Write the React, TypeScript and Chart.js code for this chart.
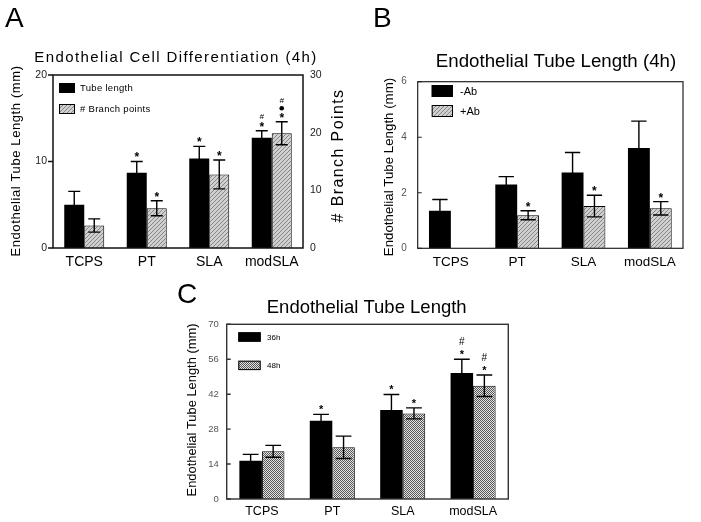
import React, { useEffect, useRef } from "react";
import { Chart, registerables } from "chart.js";

Chart.register(...registerables);

const FONT = '"Liberation Sans", Arial, Helvetica, sans-serif';

// ---------- data ----------
const categories = ["TCPS", "PT", "SLA", "modSLA"];

// Panel A: Endothelial Cell Differentiation (4h)
const aTubeLength = [5.0, 8.7, 10.35, 12.75];
const aTubeLengthErr = [1.55, 1.3, 1.4, 0.8];
const aTubeMarks = ["", "*", "*", "*#"];
const aBranchPoints = [3.9, 6.9, 12.75, 19.9];
const aBranchPointsErr = [1.15, 1.3, 2.5, 2.0];
const aBranchMarks = ["", "*", "*", "*●#"];
const aLeftTicks = { max: 20, step: 10 };
const aRightTicks = { max: 30, step: 10 };

// Panel B: Endothelial Tube Length (4h)
const bMinusAb = [1.35, 2.3, 2.73, 3.61];
const bMinusAbErr = [0.41, 0.28, 0.72, 0.97];
const bMinusMarks = ["", "", "", ""];
const bPlusAb: (number | null)[] = [null, 1.19, 1.52, 1.44];
const bPlusAbErr: (number | null)[] = [null, 0.16, 0.39, 0.24];
const bPlusMarks = ["", "*", "*", "*"];
const bTicks = { max: 6, step: 2 };

// Panel C: Endothelial Tube Length
const c36h = [15.3, 31.4, 35.7, 50.5];
const c36hErr = [2.6, 2.5, 6.2, 5.5];
const c36Marks = ["", "*", "*", "*#"];
const c48h = [19.1, 20.7, 34.3, 45.4];
const c48hErr = [2.4, 4.5, 2.2, 4.3];
const c48Marks = ["", "", "*", "*#"];
const cTicks = { max: 70, step: 14 };

// ---------- types ----------
type Fill = "black" | "hatch" | "checker";
type Series = {
  label: string;
  data: (number | null)[];
  err: (number | null)[];
  marks: string[];
  fill: Fill;
  axis: "y" | "y2";
};
type TextSpec = { text: string; x: number; y: number; size: number; ls?: number; color?: string };
type PanelCfg = {
  left: number; top: number; width: number; height: number;
  area: { l: number; r: number; t: number; b: number };
  catPct: number;
  y: { max: number; step: number; pad: number };
  y2?: { max: number; step: number; pad: number };
  series: Series[];
  tickFont: number; tickColor: string;
  xFont: number; xPad: number;
  frameColor: string; frameWidth: number;
  tickDir: number; tickLen: number;
  letter: TextSpec; title: TextSpec; yTitle: TextSpec; y2Title?: TextSpec;
  legend: { x: number; y: number; w: number; h: number; gap: number; tx: number; size: number; ls?: number };
  capFrac: number; errWidth: number;
  starSize: number; hashSize: number; hashStyle: string;
  firstGap: number; hashGap: number; dotGap: number;
};

// ---------- panel configs ----------
const panelA: PanelCfg = {
  left: 0, top: 0, width: 350, height: 282,
  area: { l: 53, r: 303, t: 75, b: 248 },
  catPct: 0.64,
  y: { ...aLeftTicks, pad: 6 },
  y2: { ...aRightTicks, pad: 7 },
  series: [
    { label: "Tube length", data: aTubeLength, err: aTubeLengthErr, marks: aTubeMarks, fill: "black", axis: "y" },
    { label: "# Branch points", data: aBranchPoints, err: aBranchPointsErr, marks: aBranchMarks, fill: "hatch", axis: "y2" },
  ],
  tickFont: 10.5, tickColor: "#222",
  xFont: 14, xPad: 5.3,
  frameColor: "#111", frameWidth: 1.5,
  tickDir: -1, tickLen: 5,
  letter: { text: "A", x: 5, y: 26.7, size: 28 },
  title: { text: "Endothelial Cell Differentiation (4h)", x: 176, y: 62.3, size: 15, ls: 1.4 },
  yTitle: { text: "Endothelial Tube Length (mm)", x: 20, y: 161, size: 13, ls: 0.6 },
  y2Title: { text: "# Branch Points", x: 343.3, y: 155.5, size: 16, ls: 1.4 },
  legend: { x: 59, y: 83, w: 16, h: 10, gap: 21, tx: 80, size: 9.5, ls: 0.3 },
  capFrac: 0.6, errWidth: 1.4,
  starSize: 12, hashSize: 8, hashStyle: "italic",
  firstGap: 7, hashGap: 8, dotGap: 6.5,
};

const panelB: PanelCfg = {
  left: 350, top: 0, width: 351, height: 282,
  area: { l: 67.7, r: 333, t: 81.7, b: 248.3 },
  catPct: 0.66,
  y: { ...bTicks, pad: 11 },
  series: [
    { label: "-Ab", data: bMinusAb, err: bMinusAbErr, marks: bMinusMarks, fill: "black", axis: "y" },
    { label: "+Ab", data: bPlusAb, err: bPlusAbErr, marks: bPlusMarks, fill: "hatch", axis: "y" },
  ],
  tickFont: 10, tickColor: "#555",
  xFont: 13.5, xPad: 5.8,
  frameColor: "#222", frameWidth: 1.2,
  tickDir: 1, tickLen: 4,
  letter: { text: "B", x: 23, y: 26.7, size: 28 },
  title: { text: "Endothelial Tube Length (4h)", x: 206, y: 66.7, size: 18.7 },
  yTitle: { text: "Endothelial Tube Length (mm)", x: 42.5, y: 167, size: 13.3 },
  legend: { x: 81.7, y: 85, w: 21.3, h: 12, gap: 20, tx: 110, size: 11 },
  capFrac: 0.7, errWidth: 1.4,
  starSize: 12, hashSize: 9, hashStyle: "normal",
  firstGap: 7, hashGap: 9, dotGap: 6.5,
};

const panelC: PanelCfg = {
  left: 160, top: 282, width: 400, height: 240,
  area: { l: 66.7, r: 348.3, t: 42.3, b: 217 },
  catPct: 0.64,
  y: { ...cTicks, pad: 8 },
  series: [
    { label: "36h", data: c36h, err: c36hErr, marks: c36Marks, fill: "black", axis: "y" },
    { label: "48h", data: c48h, err: c48hErr, marks: c48Marks, fill: "checker", axis: "y" },
  ],
  tickFont: 9.5, tickColor: "#555",
  xFont: 12.5, xPad: 5.5,
  frameColor: "#333", frameWidth: 1.4,
  tickDir: 1, tickLen: 4,
  letter: { text: "C", x: 17, y: 20.5, size: 28 },
  title: { text: "Endothelial Tube Length", x: 206.7, y: 30.7, size: 18.5 },
  yTitle: { text: "Endothelial Tube Length (mm)", x: 36, y: 128, size: 12.9 },
  legend: { x: 78.3, y: 50.3, w: 22.4, h: 9.4, gap: 28.4, tx: 107, size: 8 },
  capFrac: 0.7, errWidth: 1.4,
  starSize: 11, hashSize: 10, hashStyle: "normal",
  firstGap: 7.5, hashGap: 10, dotGap: 6.5,
};

// ---------- fills ----------
function makeHatch(): CanvasPattern | string {
  const c = document.createElement("canvas");
  c.width = 4; c.height = 4;
  const g = c.getContext("2d");
  if (!g) return "#b0b0b0";
  g.fillStyle = "#d0d0d0";
  g.fillRect(0, 0, 4, 4);
  g.fillStyle = "#858585";
  for (let i = 0; i < 4; i++) g.fillRect(3 - i, i, 1, 1);
  return g.createPattern(c, "repeat") || "#b0b0b0";
}
function makeChecker(): CanvasPattern | string {
  const c = document.createElement("canvas");
  c.width = 2; c.height = 2;
  const g = c.getContext("2d");
  if (!g) return "#999";
  g.fillStyle = "#e4e4e4";
  g.fillRect(0, 0, 2, 2);
  g.fillStyle = "#555";
  g.fillRect(0, 0, 1, 1);
  g.fillRect(1, 1, 1, 1);
  return g.createPattern(c, "repeat") || "#999";
}

// ---------- decoration plugin ----------
function setLS(ctx: CanvasRenderingContext2D, ls?: number) {
  (ctx as any).letterSpacing = `${ls || 0}px`;
}

function drawMarks(ctx: CanvasRenderingContext2D, x: number, yTop: number, marks: string, p: PanelCfg) {
  let c = yTop - p.firstGap;
  let first = true;
  for (const ch of Array.from(marks)) {
    if (!first) c -= ch === "#" ? p.hashGap : ch === "●" ? p.dotGap : 7.5;
    first = false;
    ctx.fillStyle = "#000";
    ctx.textAlign = "center";
    ctx.textBaseline = "alphabetic";
    if (ch === "*") {
      ctx.font = `bold ${p.starSize}px ${FONT}`;
      ctx.fillText("*", x, c + 0.58 * p.starSize);
    } else if (ch === "#") {
      ctx.font = `${p.hashStyle} ${p.hashSize}px ${FONT}`;
      ctx.fillText("#", x, c + 0.36 * p.hashSize);
    } else if (ch === "●") {
      ctx.beginPath();
      ctx.arc(x, c, 2.3, 0, Math.PI * 2);
      ctx.fill();
    }
  }
}

function makeDecor(p: PanelCfg, fills: Record<Fill, CanvasPattern | string>) {
  return {
    id: "decor" + p.letter.text,
    afterDraw(chart: any) {
      const ctx: CanvasRenderingContext2D = chart.ctx;
      const a = chart.chartArea;
      ctx.save();

      // error bars
      p.series.forEach((s, i) => {
        const meta = chart.getDatasetMeta(i);
        const sc = chart.scales[s.axis];
        meta.data.forEach((bar: any, j: number) => {
          const v = s.data[j];
          const e = s.err[j];
          if (v == null || e == null) return;
          const x = bar.x;
          const yt = sc.getPixelForValue(v + e);
          const yb = sc.getPixelForValue(v - e);
          const half = (bar.width * p.capFrac) / 2;
          ctx.strokeStyle = "#000";
          ctx.lineWidth = p.errWidth;
          ctx.beginPath();
          ctx.moveTo(x, yb); ctx.lineTo(x, yt);
          ctx.moveTo(x - half, yt); ctx.lineTo(x + half, yt);
          ctx.moveTo(x - half, yb); ctx.lineTo(x + half, yb);
          ctx.stroke();
          if (s.marks[j]) drawMarks(ctx, x, yt, s.marks[j], p);
        });
      });

      // frame
      ctx.strokeStyle = p.frameColor;
      ctx.lineWidth = p.frameWidth;
      ctx.strokeRect(a.left, a.top, a.right - a.left, a.bottom - a.top);

      // y ticks
      const ys = chart.scales.y;
      ctx.beginPath();
      ys.ticks.forEach((t: any) => {
        const py = ys.getPixelForValue(t.value);
        ctx.moveTo(a.left, py);
        ctx.lineTo(a.left + p.tickDir * p.tickLen, py);
      });
      ctx.stroke();

      // letter
      ctx.fillStyle = "#000";
      ctx.textAlign = "left";
      ctx.textBaseline = "alphabetic";
      ctx.font = `${p.letter.size}px ${FONT}`;
      setLS(ctx, 0);
      ctx.fillText(p.letter.text, p.letter.x, p.letter.y);

      // title
      ctx.textAlign = "center";
      ctx.font = `${p.title.size}px ${FONT}`;
      setLS(ctx, p.title.ls);
      ctx.fillText(p.title.text, p.title.x, p.title.y);

      // rotated axis titles
      const rot = (t: TextSpec) => {
        ctx.save();
        ctx.translate(t.x, t.y);
        ctx.rotate(-Math.PI / 2);
        ctx.font = `${t.size}px ${FONT}`;
        setLS(ctx, t.ls);
        ctx.textAlign = "center";
        ctx.textBaseline = "alphabetic";
        ctx.fillStyle = "#000";
        ctx.fillText(t.text, 0, 0);
        ctx.restore();
      };
      rot(p.yTitle);
      if (p.y2Title) rot(p.y2Title);

      // legend
      const L = p.legend;
      p.series.forEach((s, i) => {
        const by = L.y + i * L.gap;
        ctx.fillStyle = fills[s.fill] as any;
        ctx.fillRect(L.x, by, L.w, L.h);
        ctx.strokeStyle = "#000";
        ctx.lineWidth = 1;
        ctx.strokeRect(L.x + 0.5, by + 0.5, L.w - 1, L.h - 1);
        ctx.fillStyle = "#000";
        ctx.textAlign = "left";
        ctx.textBaseline = "alphabetic";
        ctx.font = `${L.size}px ${FONT}`;
        setLS(ctx, L.ls);
        ctx.fillText(s.label, L.tx, by + L.h / 2 + 0.36 * L.size);
      });
      setLS(ctx, 0);
      ctx.restore();
    },
  };
}

function buildConfig(p: PanelCfg): any {
  const fills: Record<Fill, CanvasPattern | string> = {
    black: "#000",
    hatch: makeHatch(),
    checker: makeChecker(),
  };
  const tickFont = { family: FONT, size: p.tickFont };
  const noGrid = { display: false, drawTicks: false, tickLength: 0 };
  const scales: any = {
    x: {
      type: "category",
      labels: categories,
      grid: noGrid,
      border: { display: false },
      ticks: { font: { family: FONT, size: p.xFont }, color: "#000", padding: p.xPad, maxRotation: 0 },
      afterFit: (s: any) => { s.height = p.height - p.area.b; },
    },
    y: {
      type: "linear",
      position: "left",
      min: 0,
      max: p.y.max,
      grid: noGrid,
      border: { display: false },
      ticks: { stepSize: p.y.step, font: tickFont, color: p.tickColor, padding: p.y.pad },
      afterFit: (s: any) => { s.width = p.area.l; },
    },
  };
  if (p.y2) {
    scales.y2 = {
      type: "linear",
      position: "right",
      min: 0,
      max: p.y2.max,
      grid: noGrid,
      border: { display: false },
      ticks: { stepSize: p.y2.step, font: tickFont, color: p.tickColor, padding: p.y2.pad },
      afterFit: (s: any) => { s.width = p.width - p.area.r; },
    };
  }
  return {
    type: "bar",
    data: {
      labels: categories,
      datasets: p.series.map((s) => ({
        label: s.label,
        data: s.data,
        backgroundColor: fills[s.fill],
        borderColor: "#000",
        borderWidth: s.fill === "black" ? 0 : 1,
        yAxisID: s.axis,
        categoryPercentage: p.catPct,
        barPercentage: 1,
      })),
    },
    options: {
      responsive: false,
      animation: false,
      devicePixelRatio: 1,
      layout: {
        padding: { top: p.area.t, left: 0, right: p.y2 ? 0 : p.width - p.area.r, bottom: 0 },
      },
      plugins: { legend: { display: false }, title: { display: false }, tooltip: { enabled: false } },
      scales,
    },
    plugins: [makeDecor(p, fills)],
  };
}

function Panel({ cfg }: { cfg: PanelCfg }) {
  const ref = useRef<HTMLCanvasElement>(null);
  useEffect(() => {
    if (!ref.current) return;
    const chart = new Chart(ref.current, buildConfig(cfg));
    return () => chart.destroy();
  }, [cfg]);
  return (
    <canvas
      ref={ref}
      width={cfg.width}
      height={cfg.height}
      style={{ position: "absolute", left: cfg.left, top: cfg.top, width: cfg.width, height: cfg.height }}
    />
  );
}

export default function App() {
  return (
    <div style={{ position: "absolute", left: 0, top: 0, width: 701, height: 522, background: "#fff", overflow: "hidden" }}>
      <Panel cfg={panelA} />
      <Panel cfg={panelB} />
      <Panel cfg={panelC} />
    </div>
  );
}
